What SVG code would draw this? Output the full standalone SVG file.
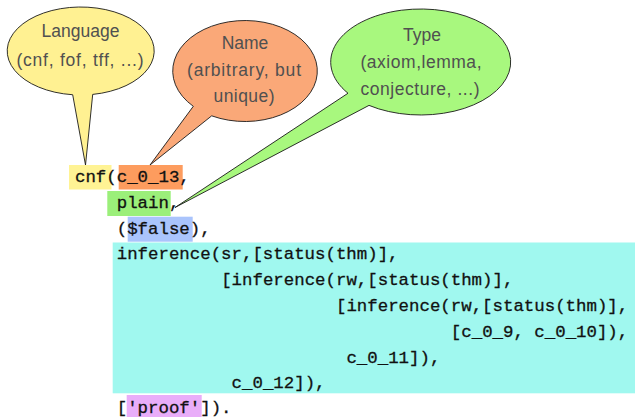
<svg xmlns="http://www.w3.org/2000/svg" width="635" height="417" viewBox="0 0 635 417">
<style>
.bub{stroke:#1a1a1a;stroke-width:0.9;stroke-linejoin:miter}
.lbl{font-family:"Liberation Sans",Arial,sans-serif;font-size:17.5px;fill:#505050;text-anchor:middle}
.code{font-family:"Liberation Mono","Courier New",monospace;font-size:17.4px;fill:#111;stroke:#111;stroke-width:0.3}
</style>
<rect width="635" height="417" fill="#ffffff"/>
<g id="code">
  <rect x="69" y="165" width="42.5" height="24.5" fill="#fff394"/>
  <rect x="118.7" y="165" width="64" height="24.5" fill="#fd9c5e"/>
  <rect x="107.3" y="191" width="63.4" height="25" fill="#9bef7a"/>
  <rect x="127.7" y="216.7" width="65" height="25" fill="#aac4fc"/>
  <rect x="112.7" y="242.5" width="522.3" height="150.8" fill="#a0f8ef"/>
  <rect x="126.7" y="395" width="75" height="22" fill="#e9adf9"/>
  <text class="code" x="75" y="182">cnf(c_0_13,</text>
  <text class="code" x="116.76" y="207.8">plain,</text>
  <text class="code" x="116.76" y="233.6">($false),</text>
  <text class="code" x="116.76" y="259.4">inference(sr,[status(thm)],</text>
  <text class="code" x="221.16" y="285.2">[inference(rw,[status(thm)],</text>
  <text class="code" x="336" y="311">[inference(rw,[status(thm)],</text>
  <text class="code" x="450.84" y="336.8">[c_0_9, c_0_10]),</text>
  <text class="code" x="346.44" y="362.6">c_0_11]),</text>
  <text class="code" x="231.6" y="388.4">c_0_12]),</text>
  <text class="code" x="116.76" y="412.6">['proof']).</text>
</g>
<g id="language">
  <path class="bub" fill="#fff192" d="M72.7,94.74 L85.5,165 L92.7,94.41 A73.5,44 0 1 0 72.7,94.74 Z"/>
  <text class="lbl" x="80.5" y="37">Language</text>
  <text class="lbl" x="80" y="66" textLength="127" lengthAdjust="spacing">(cnf, fof, tff, ...)</text>
</g>
<g id="name">
  <path class="bub" fill="#faa878" d="M193.3,106.3 L150,165 L211.7,115.83 A72.3,50.5 0 1 0 193.3,106.3 Z"/>
  <text class="lbl" x="245" y="49">Name</text>
  <text class="lbl" x="244" y="76" textLength="114" lengthAdjust="spacing">(arbitrary, but</text>
  <text class="lbl" x="244" y="102" textLength="61" lengthAdjust="spacing">unique)</text>
</g>
<g id="type">
  <path class="bub" fill="#a8f87e" d="M348,93.24 L175,207.5 L369,105.38 A90,53 0 1 0 348,93.24 Z"/>
  <text class="lbl" x="422" y="41">Type</text>
  <text class="lbl" x="421" y="68" textLength="121" lengthAdjust="spacing">(axiom,lemma,</text>
  <text class="lbl" x="420" y="95" textLength="119" lengthAdjust="spacing">conjecture, ...)</text>
</g>
</svg>
